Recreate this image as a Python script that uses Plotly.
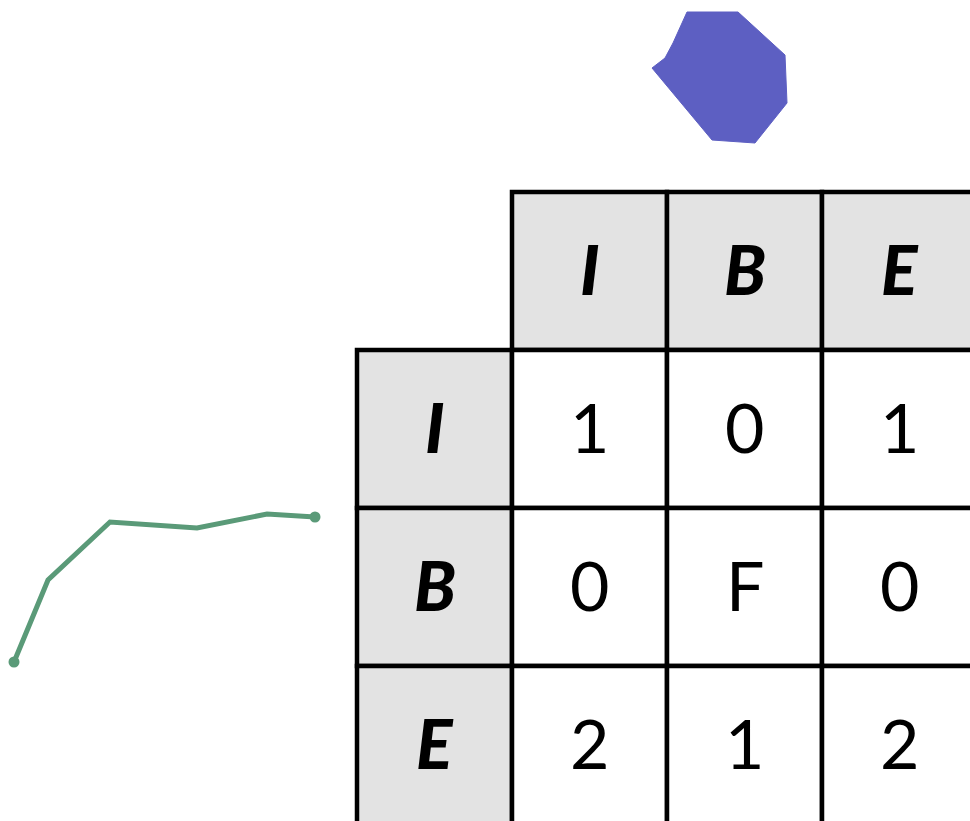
import plotly.graph_objects as go

# ---- data ----
col_labels = ["I", "B", "E"]
row_labels = ["I", "B", "E"]
matrix = [
    ["1", "0", "1"],
    ["0", "F", "0"],
    ["2", "1", "2"],
]
polygon_x = [687, 738, 785, 787, 755, 712, 652, 665, 673, 687]
polygon_y = [12, 12, 55, 103, 143, 140, 68, 58, 43, 12]
line_x = [14, 48, 110, 197, 267, 315]
line_y = [662, 580, 522, 528, 514, 517]

# ---- layout constants ----
W, H = 970, 821
x0, y0 = 357, 192        # left of row-label column, top of header row
cw, ch = 155, 158        # cell width, height
gray = "#e3e3e3"
grid_w = 4.5
font_fam = "Lato, 'Open Sans', sans-serif"
fsize = 68
yshift = 3

fig = go.Figure()

shapes = []
annotations = []
bold_font = dict(family=font_fam, size=fsize, color="black", weight=900, style="italic")
reg_font = dict(family=font_fam, size=fsize, color="black")

# header row cells (column labels)
for j, lab in enumerate(col_labels):
    xa = x0 + cw * (j + 1)
    shapes.append(dict(type="rect", xref="x", yref="y", x0=xa, x1=xa + cw,
                       y0=y0, y1=y0 + ch, fillcolor=gray,
                       line=dict(color="black", width=grid_w), layer="below"))
    annotations.append(dict(x=xa + cw / 2, y=y0 + ch / 2, xref="x", yref="y",
                            text=lab, showarrow=False, yshift=yshift, font=bold_font))

# row label cells + value cells
for i, lab in enumerate(row_labels):
    ya = y0 + ch * (i + 1)
    shapes.append(dict(type="rect", xref="x", yref="y", x0=x0, x1=x0 + cw,
                       y0=ya, y1=ya + ch, fillcolor=gray,
                       line=dict(color="black", width=grid_w), layer="below"))
    annotations.append(dict(x=x0 + cw / 2, y=ya + ch / 2, xref="x", yref="y",
                            text=lab, showarrow=False, yshift=yshift, font=bold_font))
    for j, val in enumerate(matrix[i]):
        xa = x0 + cw * (j + 1)
        shapes.append(dict(type="rect", xref="x", yref="y", x0=xa, x1=xa + cw,
                           y0=ya, y1=ya + ch, fillcolor="white",
                           line=dict(color="black", width=grid_w), layer="below"))
        annotations.append(dict(x=xa + cw / 2, y=ya + ch / 2, xref="x", yref="y",
                                text=val, showarrow=False, yshift=yshift, font=reg_font))

# polygon
fig.add_trace(go.Scatter(x=polygon_x, y=polygon_y, mode="lines", fill="toself",
                         fillcolor="#5d5fc2", line=dict(color="#5d5fc2", width=1),
                         hoverinfo="skip", showlegend=False))
# line with end points
fig.add_trace(go.Scatter(x=line_x, y=line_y, mode="lines",
                         line=dict(color="#5a9a78", width=5),
                         hoverinfo="skip", showlegend=False))
fig.add_trace(go.Scatter(x=[line_x[0], line_x[-1]], y=[line_y[0], line_y[-1]],
                         mode="markers", marker=dict(color="#5a9a78", size=11),
                         hoverinfo="skip", showlegend=False))

fig.update_layout(
    width=W, height=H,
    margin=dict(l=0, r=0, t=0, b=0),
    paper_bgcolor="white", plot_bgcolor="white",
    shapes=shapes, annotations=annotations,
    xaxis=dict(range=[0, W], visible=False, fixedrange=True),
    yaxis=dict(range=[H, 0], visible=False, fixedrange=True),
    showlegend=False,
)

fig.write_html("out.html",
               config={"displayModeBar": False},
               post_script="document.body.style.margin='0';document.body.style.overflow='hidden';")
